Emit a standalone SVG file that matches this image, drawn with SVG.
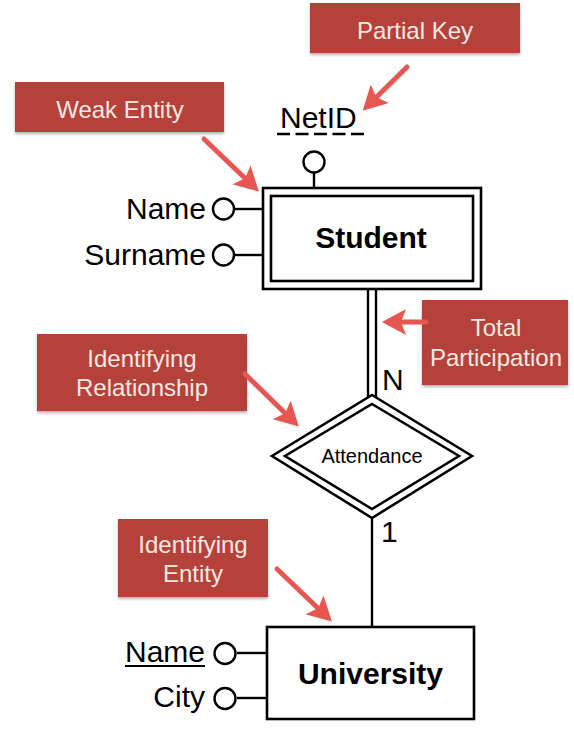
<svg xmlns="http://www.w3.org/2000/svg" width="574" height="732" viewBox="0 0 574 732">
<style>
.ent{fill:#fff;stroke:#000;stroke-width:2.6}
.ln{stroke:#000;stroke-width:2.4;fill:none}
.att{fill:#fff;stroke:#000;stroke-width:2.4}
.t{font-family:"Liberation Sans",Arial,sans-serif;fill:#000}
.big{font-size:30px}
.bold{font-size:30px;font-weight:bold}
.box{fill:#b4433a}
.bt{font-family:"Liberation Sans",Arial,sans-serif;font-size:24px;fill:#f6e8e3;text-anchor:middle}
.arr{stroke:#e55750;stroke-width:5;fill:none;stroke-linecap:round}
</style>
<defs>
<filter id="sh" x="-10%" y="-10%" width="120%" height="130%">
<feDropShadow dx="0" dy="2" stdDeviation="1.5" flood-color="#000" flood-opacity="0.3"/>
</filter>
<marker id="ah" markerUnits="userSpaceOnUse" viewBox="0 0 24 26" refX="11" refY="13" markerWidth="24" markerHeight="26" orient="auto">
<path d="M0,0 L24,13 L0,26 L5,13 z" fill="#e55750"/>
</marker>
</defs>

<g id="connectors">
<line class="ln" x1="314" y1="173" x2="314" y2="188"/>
<line class="ln" x1="235" y1="209" x2="263" y2="209"/>
<line class="ln" x1="235" y1="255" x2="263" y2="255"/>
<line class="ln" x1="368" y1="289" x2="368" y2="398"/>
<line class="ln" x1="376" y1="289" x2="376" y2="398"/>
<line class="ln" x1="372" y1="518" x2="372" y2="627"/>
<line class="ln" x1="237" y1="653" x2="267" y2="653"/>
<line class="ln" x1="237" y1="698" x2="267" y2="698"/>
<text class="t big" x="382" y="390">N</text>
<text class="t big" x="381" y="542">1</text>
</g>

<g id="student">
<rect class="ent" x="263" y="188" width="218" height="101"/>
<rect class="ent" x="271" y="196" width="202" height="85"/>
<text class="t bold" x="371" y="248" text-anchor="middle">Student</text>
</g>

<g id="netid">
<circle class="att" cx="314" cy="162" r="10.5"/>
<text class="t big" x="280" y="128">NetID</text>
<line x1="277" y1="134" x2="364" y2="134" stroke="#000" stroke-width="2.4" stroke-dasharray="13 5.5"/>
</g>

<g id="student-name">
<circle class="att" cx="223.5" cy="209" r="10.5"/>
<text class="t big" x="206" y="219" text-anchor="end">Name</text>
</g>

<g id="student-surname">
<circle class="att" cx="223.5" cy="255" r="10.5"/>
<text class="t big" x="206" y="265" text-anchor="end">Surname</text>
</g>

<g id="attendance">
<polygon class="ent" stroke-width="2.2" points="372,395 472,456 372,518 272,456"/>
<polygon class="ent" stroke-width="2.2" points="372,404 459,456 372,509 285,456"/>
<text class="t" x="372" y="463" font-size="20" text-anchor="middle">Attendance</text>
</g>

<g id="university">
<rect class="ent" x="267" y="627" width="207" height="92"/>
<text class="t bold" x="370.5" y="684" text-anchor="middle">University</text>
</g>

<g id="university-name">
<circle class="att" cx="225" cy="653.5" r="10.5"/>
<text class="t big" x="205" y="662" text-anchor="end">Name</text>
<line x1="125" y1="666" x2="205" y2="666" stroke="#000" stroke-width="2"/>
</g>

<g id="university-city">
<circle class="att" cx="225" cy="698.5" r="10.5"/>
<text class="t big" x="205" y="707" text-anchor="end">City</text>
</g>

<g id="label-partial-key">
<rect class="box" filter="url(#sh)" x="310" y="3" width="210" height="50"/>
<text class="bt" x="415" y="39">Partial Key</text>
</g>

<g id="label-weak-entity">
<rect class="box" filter="url(#sh)" x="15" y="82" width="209" height="50"/>
<text class="bt" x="120" y="118">Weak Entity</text>
</g>

<g id="label-total-participation">
<rect class="box" filter="url(#sh)" x="422" y="300" width="146" height="85"/>
<text class="bt" x="496" y="336">Total</text>
<text class="bt" x="496" y="366">Participation</text>
</g>

<g id="label-identifying-relationship">
<rect class="box" filter="url(#sh)" x="37" y="334" width="210" height="77"/>
<text class="bt" x="142" y="367">Identifying</text>
<text class="bt" x="142" y="396">Relationship</text>
</g>

<g id="label-identifying-entity">
<rect class="box" filter="url(#sh)" x="118" y="519" width="150" height="78"/>
<text class="bt" x="193" y="553">Identifying</text>
<text class="bt" x="193" y="582">Entity</text>
</g>

<g id="annotation-arrows">
<line class="arr" marker-end="url(#ah)" x1="407" y1="67" x2="372" y2="101.5"/>
<line class="arr" marker-end="url(#ah)" x1="204" y1="139" x2="249.5" y2="182.5"/>
<line class="arr" marker-end="url(#ah)" x1="426" y1="322" x2="395" y2="322"/>
<line class="arr" marker-end="url(#ah)" x1="245" y1="374" x2="289.5" y2="417.5"/>
<line class="arr" marker-end="url(#ah)" x1="277" y1="569" x2="322.5" y2="612.5"/>
</g>
</svg>
